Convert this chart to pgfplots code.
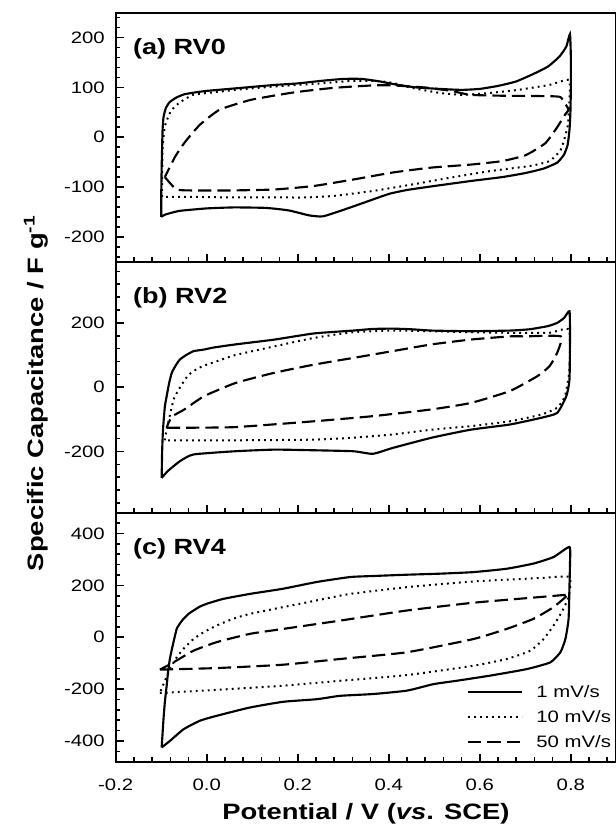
\documentclass[border=0pt]{standalone}
\usepackage{fontspec}
\setmainfont{Liberation Sans}[FakeStretch=1.23]
\usepackage{pgfplots}
\pgfplotsset{compat=1.18}
\tikzset{
  plab/.style={anchor=base west, font=\bfseries\fontsize{16.5pt}{18pt}\selectfont, xshift=9.5pt, yshift=-31.5pt},
}
\begin{document}
\begin{tikzpicture}
\pgfplotsset{
  cvbase/.style={
    scale only axis,
    width=375.5pt,
    xmin=-0.2, xmax=0.9,
    xtick={-0.2,0,0.2,0.4,0.6,0.8},
    minor xtick={-0.16,-0.12,-0.08,-0.04,0.04,0.08,0.12,0.16,0.24,0.28,0.32,0.36,0.44,0.48,0.52,0.56,0.64,0.68,0.72,0.76,0.84,0.88},
    tick align=inside,
    tick pos=left,
    axis line style={line width=1.6pt},
    tick style={line width=1.2pt, black},
    major tick length=6pt,
    minor tick length=3.5pt,
    tick label style={font=\fontsize{12.4pt}{14pt}\selectfont},
    /pgf/number format/assume math mode=true,
    yticklabel style={xshift=-4.7pt},
    xticklabel style={yshift=-9.5pt, /pgf/number format/.cd, fixed, fixed zerofill, precision=1},
    clip=false,
    anchor=south west,
  },
  s1/.style={black, line width=1.6pt, solid, smooth, tension=0.3},
  s10/.style={black, line width=1.5pt, dash pattern=on 1.4pt off 3.1pt, smooth, tension=0.3},
  s50/.style={black, line width=1.6pt, dash pattern=on 10pt off 4.5pt, smooth, tension=0.3},
}

% ---------- (c) RV4 ----------
\begin{axis}[cvbase, at={(0pt,0pt)}, height=186.75pt,
  ymin=-480, ymax=480,
  ytick={-400,-200,0,200,400},
  minor ytick={-440,-360,-320,-280,-240,-160,-120,-80,-40,40,80,120,160,240,280,320,360,440},
  legend cell align=left,
  legend image code/.code={\draw[#1, sharp plot] (0pt,0pt) -- (40.5pt,0pt);},
  legend style={draw=none, fill=none, at={(rel axis cs:0.701,0.1807)}, anchor=west,
    inner sep=0pt, row sep=9.95pt,
    nodes={inner sep=0pt, text height=8.8pt, text depth=0pt},
    font=\fontsize{12.4pt}{14pt}\selectfont,
    /tikz/every odd column/.append style={column sep=10pt}},
]
\addplot[s1] coordinates {
(-0.099,-425) (-0.097,-370) (-0.095,-316) (-0.092,-250) (-0.088,-187) (-0.085,-135)
(-0.081,-84) (-0.077,-50) (-0.073,-19) (-0.066,32) (-0.058,55) (-0.051,71)
(-0.040,90) (-0.029,103) (-0.015,118) (0.000,129) (0.037,148) (0.095,167)
(0.168,187) (0.242,213) (0.315,232) (0.366,236) (0.440,241) (0.513,245)
(0.586,251) (0.659,264) (0.718,284) (0.762,309) (0.797,348) (0.798,280)
(0.797,200) (0.795,71) (0.788,-7) (0.777,-58) (0.755,-97) (0.703,-123)
(0.623,-148) (0.549,-168) (0.498,-181) (0.440,-206) (0.366,-219) (0.293,-226)
(0.242,-239) (0.168,-249) (0.095,-271) (0.022,-303) (-0.015,-322) (-0.051,-355)
(-0.081,-400) (-0.099,-425)
};
\addlegendentry{1 mV/s}
\addplot[s10] coordinates {
(-0.103,-215) (0.022,-203) (0.168,-187) (0.293,-168) (0.440,-146) (0.586,-110)
(0.659,-84) (0.711,-52) (0.740,-7) (0.762,45) (0.780,97) (0.795,155)
(0.797,232) (0.733,228) (0.586,215) (0.440,193) (0.315,167) (0.242,142)
(0.168,116) (0.095,90) (0.058,71) (0.022,45) (-0.007,19) (-0.029,-7)
(-0.048,-39) (-0.065,-75) (-0.080,-120) (-0.095,-181) (-0.103,-215)
};
\addlegendentry{10 mV/s}
\addplot[s50] coordinates {
(-0.103,-125) (0.022,-119) (0.168,-106) (0.293,-84) (0.440,-58) (0.586,-7)
(0.659,32) (0.718,71) (0.762,116) (0.791,159) (0.795,164) (0.733,155)
(0.586,133) (0.440,103) (0.293,64) (0.168,32) (0.095,13) (0.022,-19)
(-0.029,-52) (-0.073,-97) (-0.103,-125)
};
\addlegendentry{50 mV/s}
\node[plab] at (rel axis cs:0,1) {(c) RV4};
\node[anchor=base, font=\bfseries\fontsize{16.7pt}{19pt}\selectfont] at (rel axis cs:0.5,0) [yshift=-43.2pt] {Potential / V (\textit{vs}. SCE)};
\end{axis}

% ---------- (b) RV2 ----------
\begin{axis}[cvbase, at={(0pt,186.75pt)}, height=188.25pt,
  ymin=-390, ymax=390,
  ytick={-200,0,200},
  minor ytick={-360,-320,-280,-240,-160,-120,-80,-40,40,80,120,160,240,280,320,360},
  xticklabels={},
]
\addplot[s1] coordinates {
(-0.099,-282) (-0.098,-200) (-0.096,-130) (-0.092,-60) (-0.088,-28) (-0.083,10)
(-0.077,44) (-0.068,68) (-0.059,86) (-0.045,100) (-0.029,112) (-0.006,117)
(0.014,123) (0.063,133) (0.149,148) (0.235,167) (0.322,176) (0.365,181)
(0.408,182) (0.450,180) (0.494,176) (0.580,174) (0.666,176) (0.709,180)
(0.750,190) (0.770,200) (0.785,215) (0.797,236) (0.798,158) (0.797,24)
(0.790,-28) (0.770,-80) (0.735,-95) (0.666,-116) (0.580,-132) (0.494,-157)
(0.408,-189) (0.365,-207) (0.322,-199) (0.235,-196) (0.149,-194) (0.063,-199)
(-0.029,-209) (-0.059,-230) (-0.085,-260) (-0.099,-282)
};
\addplot[s10] coordinates {
(-0.092,-165) (-0.088,-130) (-0.083,-100) (-0.072,-35) (-0.055,8) (-0.040,38)
(-0.020,58) (0.000,70) (0.025,82) (0.063,100) (0.149,127) (0.235,153)
(0.322,171) (0.408,176) (0.494,174) (0.580,171) (0.666,169) (0.753,169)
(0.796,179) (0.797,55) (0.787,-28) (0.770,-64) (0.735,-85) (0.666,-106)
(0.580,-121) (0.494,-132) (0.408,-147) (0.322,-157) (0.235,-163) (0.063,-165)
(-0.092,-165)
};
\addplot[s50] coordinates {
(-0.088,-126) (-0.050,-126) (0.063,-124) (0.235,-106) (0.365,-90) (0.494,-69)
(0.580,-49) (0.666,-12) (0.726,34) (0.753,65) (0.770,107) (0.778,158)
(0.700,158) (0.666,158) (0.580,148) (0.494,133) (0.408,112) (0.322,91)
(0.235,70) (0.149,45) (0.063,13) (-0.006,-28) (-0.049,-69) (-0.075,-90)
(-0.084,-111) (-0.088,-126)
};
\node[plab] at (rel axis cs:0,1) {(b) RV2};
\node[xshift=-54.5pt, rotate=90, anchor=base, font=\bfseries\fontsize{16.7pt}{19pt}\selectfont] at (rel axis cs:0,0.4757) {Specific Capacitance / F g\textsuperscript{-1}};
\end{axis}

% ---------- (a) RV0 ----------
\begin{axis}[cvbase, at={(0pt,375pt)}, height=186.75pt,
  ymin=-250, ymax=250,
  ytick={-200,-100,0,100,200},
  minor ytick={-240,-220,-180,-160,-140,-120,-80,-60,-40,-20,20,40,60,80,120,140,160,180,220,240},
  xticklabels={},
]
\addplot[s1] coordinates {
(-0.100,-160) (-0.100,-120) (-0.099,-60) (-0.098,-20) (-0.097,15) (-0.095,40)
(-0.090,58) (-0.082,70) (-0.068,79) (-0.050,86) (-0.025,90) (0.000,93)
(0.050,97) (0.100,101) (0.150,105) (0.200,108) (0.250,113) (0.300,117)
(0.340,117) (0.380,112) (0.420,105) (0.460,100) (0.510,97) (0.560,95)
(0.600,97) (0.640,103) (0.680,112) (0.720,128) (0.750,142) (0.775,162)
(0.790,182) (0.798,207) (0.800,160) (0.800,100) (0.799,50) (0.797,15)
(0.793,-15) (0.785,-35) (0.770,-51) (0.740,-63) (0.700,-72) (0.650,-80)
(0.580,-88) (0.500,-98) (0.440,-106) (0.400,-114) (0.350,-130) (0.300,-146)
(0.255,-159) (0.225,-157) (0.180,-147) (0.130,-142) (0.060,-141) (0.000,-143)
(-0.060,-148) (-0.090,-155) (-0.100,-160)
};
\addplot[s10] coordinates {
(-0.098,-120) (-0.098,-80) (-0.097,-25) (-0.095,0) (-0.092,22) (-0.085,40)
(-0.077,55) (-0.059,70) (-0.030,85) (0.014,90) (0.063,95) (0.150,102)
(0.250,108) (0.320,113) (0.373,113) (0.408,109) (0.451,99) (0.511,89)
(0.563,85) (0.623,89) (0.684,95) (0.753,105) (0.796,115) (0.797,75)
(0.793,22) (0.778,-25) (0.753,-48) (0.709,-58) (0.623,-68) (0.537,-81)
(0.451,-95) (0.365,-108) (0.278,-118) (0.218,-121) (0.149,-121) (0.063,-121)
(-0.023,-120) (-0.098,-120)
};
\addplot[s50] coordinates {
(-0.092,-80) (-0.066,-105) (-0.023,-107) (0.050,-107) (0.149,-105) (0.235,-98)
(0.322,-85) (0.408,-71) (0.494,-61) (0.580,-55) (0.649,-48) (0.701,-36)
(0.744,-12) (0.770,20) (0.787,45) (0.795,55) (0.787,68) (0.778,80)
(0.766,82) (0.700,83) (0.666,83) (0.580,85) (0.537,93) (0.477,100)
(0.408,104) (0.365,104) (0.278,99) (0.192,90) (0.097,75) (0.028,55)
(-0.015,25) (-0.048,-10) (-0.070,-40) (-0.092,-80)
};
\node[plab] at (rel axis cs:0,1) {(a) RV0};
\end{axis}

\pgfresetboundingbox
\path[use as bounding box] (-86.775pt,-54.225pt) rectangle (374.475pt,571.275pt);
\end{tikzpicture}
\end{document}
